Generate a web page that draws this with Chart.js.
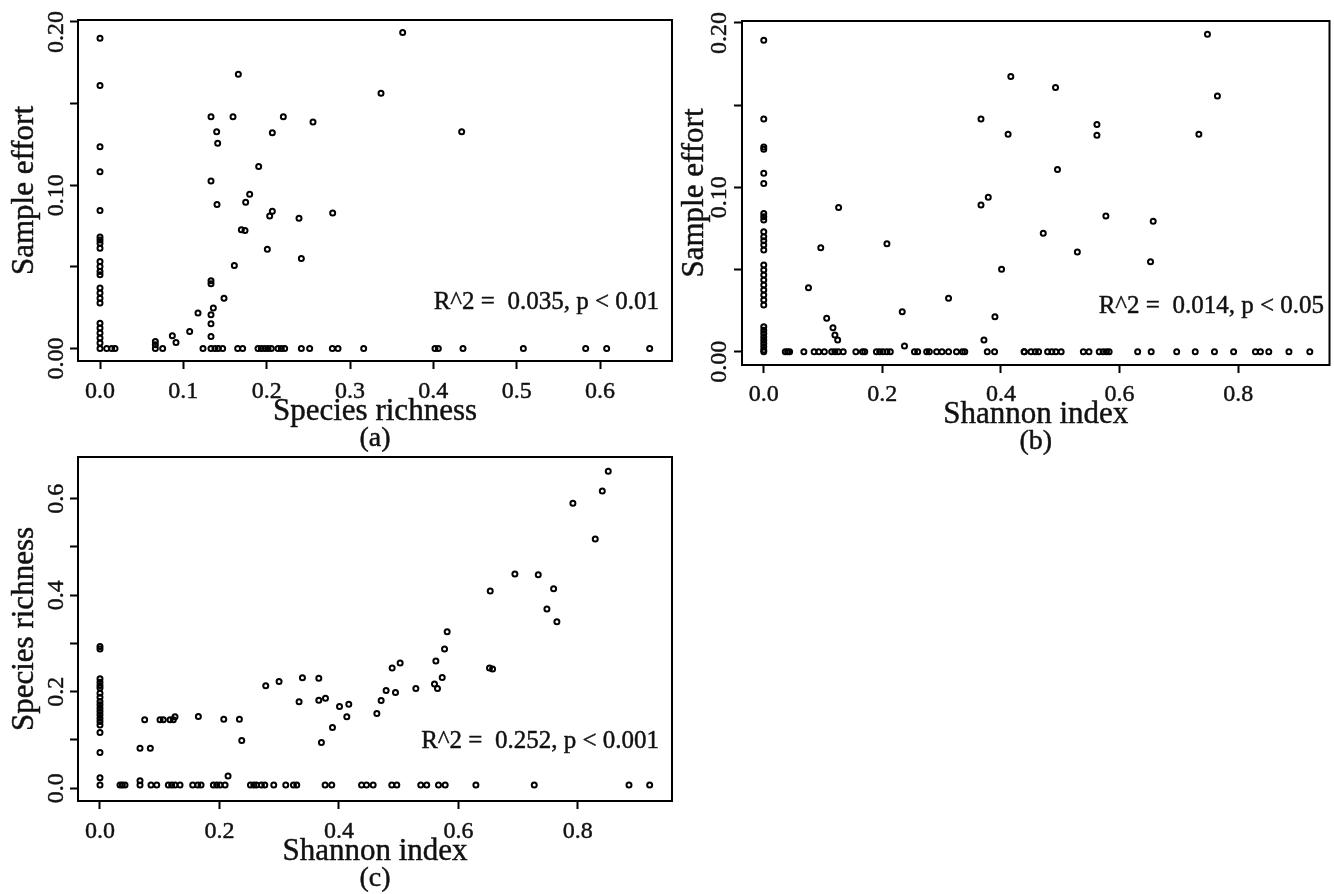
<!DOCTYPE html>
<html><head><meta charset="utf-8">
<script src="https://cdn.jsdelivr.net/npm/chart.js@4.4.1/dist/chart.umd.min.js"></script>
<style>
html,body{margin:0;padding:0;background:#fff;width:1334px;height:894px;overflow:hidden}
canvas{position:absolute;left:0;top:0}
</style></head>
<body>
<canvas id="ca" width="1334" height="894"></canvas>
<canvas id="cb" width="1334" height="894"></canvas>
<canvas id="cc" width="1334" height="894"></canvas>
<script>
// ---------- Panel (a): Species richness (x) vs Sample effort (y) ----------
const aX = [0,0,0,0,0,0,0,0,0,0,0,0,0,0,0,0,0,0,0,0,0,0,0,
  0.008,0.014,0.018,0.0664,0.0664,0.0664,0.0752,0.0868,0.0912,0.1076,0.1176,0.1236,
  0.1332,0.1332,0.1332,0.1332,0.1332,0.1332,0.1332,0.136,0.140,0.1412,0.1404,
  0.1332,0.138,0.142,0.1472,0.1488,0.1596,0.1612,0.166,0.1652,0.1712,0.1696,0.174,0.1748,0.1796,0.1904,
  0.1896,0.1936,0.1976,0.2016,0.2056,0.2136,0.2176,0.2216,
  0.2008,0.2036,0.2068,0.2068,0.22,0.2388,0.2416,0.2416,0.2516,0.2556,0.2792,0.2788,0.2856,0.3164,
  0.3372,0.3632,0.434,0.402,0.406,0.4356,0.508,0.5828,0.608,0.6596];
const aY = [0.190,0.161,0.1236,0.1083,0.0845,0.0682,0.0665,0.0645,0.0614,0.0532,0.0502,0.0471,0.0451,0.037,0.0339,0.0308,0.0278,0.0155,0.0125,0.0094,0.0064,0.0033,0,
  0,0,0,0.0043,0.0023,0,0,0.0078,0.0037,0.0104,0.0217,0,
  0.142,0.1026,0.0414,0.0396,0.0206,0.0151,0.0073,0.0247,0.1328,0.1257,0.0881,
  0,0,0,0,0.0308,0.142,0.0508,0.1679,0,0,0.0727,0.0723,0.0896,0.0945,0.1114,
  0,0,0,0,0,0,0,0,
  0.0608,0.0812,0.0841,0.1322,0.142,0.0798,0.0551,0,0,0.1387,0.0829,0,0,0,
  0.1563,0.1936,0.1328,0,0,0,0,0,0,0];
const aXTicks = [0,0.1,0.2,0.3,0.4,0.5,0.6];
const aXLabels = ['0.0','0.1','0.2','0.3','0.4','0.5','0.6'];
const aYTicks = [0,0.05,0.1,0.15,0.2];
const aYLabels = ['0.00','','0.10','','0.20'];

// ---------- Panel (b): Shannon index (x) vs Sample effort (y) ----------
const bX = [0,0,0,0,0,0,0,0,0,0,0,0,0,0,0,0,0,0,0,0,0,0,0,0,0,0,0,0,0,0,0,0,
  0.0363,0.0402,0.0436,0.0676,0.0849,0.0927,0.1022,0.0754,0.0961,0.1061,0.1167,0.12,0.1246,0.1262,
  0.1145,0.12,0.1256,0.134,0.1553,0.1665,0.1703,0.1899,0.1955,0.201,0.2077,0.2134,0.2077,0.2335,0.2373,
  0.2541,0.2596,0.2747,0.2792,0.2915,0.3005,0.3116,0.325,0.335,0.339,0.3116,
  0.3663,0.3663,0.3786,0.3713,0.3769,0.3892,0.3898,0.401,0.412,0.4166,0.4389,
  0.7482,0.492,0.765,0.5618,0.5618,0.7337,0.4953,0.5769,0.6567,0.4713,0.5288,0.6522,
  0.4395,0.4506,0.4579,0.4635,0.4786,0.4858,0.4925,0.5015,0.5389,0.5484,0.5657,0.5723,0.5779,0.5824,
  0.6305,0.6533,0.6963,0.7276,0.76,0.7923,0.8291,0.8375,0.8516,0.8856,0.9208];
const bY = [0.1895,0.1415,0.1246,0.1232,0.1085,0.1024,0.0841,0.0821,0.0801,0.073,0.07,0.0675,0.0649,0.0618,
  0.0527,0.0497,0.0466,0.0436,0.0405,0.0375,0.0345,0.0314,0.0284,0.0152,0.0131,0.011,0.009,0.007,0.005,0.003,0.001,0,
  0,0,0,0,0,0,0,0.0389,0.0632,0.0203,0.0146,0.0101,0.0071,0.0878,
  0,0,0,0,0,0,0,0,0,0,0,0,0.0657,0.0243,0.0035,
  0,0,0,0,0,0,0,0,0,0,0.0325,
  0.1415,0.0892,0.0939,0.0071,0,0,0.0213,0.0501,0.1323,0.1674,0,
  0.1931,0.1607,0.1556,0.1382,0.1317,0.1323,0.1109,0.0825,0.0793,0.072,0.0606,0.0547,
  0,0,0,0,0,0,0,0,0,0,0,0,0,0,
  0,0,0,0,0,0,0,0,0,0,0];
const bXTicks = [0,0.2,0.4,0.6,0.8];
const bXLabels = ['0.0','0.2','0.4','0.6','0.8'];
const bYTicks = [0,0.05,0.1,0.15,0.2];
const bYLabels = ['0.00','','0.10','','0.20'];

// ---------- Panel (c): Shannon index (x) vs Species richness (y) ----------
const cX = [0,0,0,0,0,0,0,0,0,0,0,0,0,0,0,0,0,0,0,0,
  0.0335,0.0374,0.0419,0.067,0.067,0.067,0.0843,0.0748,0.0854,0.095,
  0.1005,0.106,0.1173,0.1228,0.1256,0.1144,0.12,0.1256,0.134,0.1647,0.1552,0.1636,0.1692,
  0.1898,0.1954,0.201,0.2094,0.2072,0.2144,0.2334,0.2373,
  0.2519,0.2575,0.262,0.2703,0.2759,0.2909,0.2775,0.2998,0.311,0.3239,0.3294,
  0.3333,0.3389,0.3663,0.3663,0.3707,0.3775,0.3769,0.388,0.3892,0.401,0.4132,0.4165,
  0.4379,0.4462,0.4573,0.4635,0.4707,0.479,0.4891,0.4947,0.5025,0.4885,0.4969,
  0.5288,0.537,0.547,0.5623,0.56,0.565,0.5729,0.5768,0.5812,0.5667,0.5779,0.6293,
  0.6533,0.6521,0.6572,0.6946,0.727,0.7337,0.7594,0.7482,0.7649,0.7917,0.8291,0.8409,0.8509,0.8856,0.9202];
const cY = [0.2938,0.2884,0.2268,0.2199,0.2129,0.2075,0.197,0.1888,0.1797,0.1728,0.1659,0.159,0.1521,0.1452,0.1382,0.1313,0.1154,0.0739,0.022,0.0068,
  0.0068,0.0068,0.0068,0.0158,0.0068,0.083,0.083,0.1418,0.0068,0.0068,
  0.1418,0.1418,0.1418,0.1418,0.148,0.0068,0.0068,0.0068,0.0068,0.1487,0.0068,0.0068,0.0068,
  0.0068,0.0068,0.0068,0.0068,0.1431,0.0255,0.1431,0.0988,
  0.0068,0.0068,0.0068,0.0068,0.0068,0.0068,0.2122,0.2212,0.0068,0.0068,0.0068,
  0.179,0.2288,0.2282,0.1826,0.0946,0.1867,0.0068,0.0068,0.1257,0.1693,0.148,0.1743,
  0.0068,0.0068,0.0068,0.1548,0.1818,0.2025,0.249,0.1984,0.2593,0.0068,0.0068,
  0.2066,0.0068,0.0068,0.2635,0.2158,0.2066,0.2295,0.2884,0.3243,0.0068,0.0068,0.0068,
  0.4087,0.249,0.2469,0.444,0.0068,0.4425,0.4135,0.3714,0.345,0.5905,0.5166,0.6162,0.6568,0.0068,0.0068];
const cXTicks = [0,0.2,0.4,0.6,0.8];
const cXLabels = ['0.0','0.2','0.4','0.6','0.8'];
const cYTicks = [0,0.1,0.2,0.3,0.4,0.5,0.6];
const cYLabels = ['0.0','','0.2','','0.4','','0.6'];

const FONT = '"Liberation Serif", "Times New Roman", Times, serif';
const W = 1334, H = 894;

function drawText(ctx, s, x, y) {
  ctx.fillText(s, x, y);
  ctx.strokeText(s, x, y);
}

function build(id, xs, ys, cfg) {
  const pts = xs.map((x, i) => ({ x: x, y: ys[i] }));
  const textPlugin = {
    id: 'rtext' + id,
    afterDraw(chart) {
      const ctx = chart.ctx, a = chart.chartArea, sx = chart.scales.x, sy = chart.scales.y;
      ctx.save();
      ctx.strokeStyle = '#000'; ctx.lineWidth = 2;
      ctx.strokeRect(a.left, a.top, a.right - a.left, a.bottom - a.top);
      ctx.fillStyle = '#111';
      ctx.strokeStyle = '#111'; ctx.lineWidth = 0.45; ctx.lineJoin = 'round';
      ctx.textAlign = 'center'; ctx.textBaseline = 'alphabetic';
      ctx.font = '24px ' + FONT;
      cfg.xTicks.forEach((v, i) => {
        if (cfg.xLabels[i]) drawText(ctx, cfg.xLabels[i], sx.getPixelForValue(v), cfg.xLabelBase);
      });
      cfg.yTicks.forEach((v, i) => {
        if (!cfg.yLabels[i]) return;
        ctx.save();
        ctx.translate(cfg.yLabelBase, sy.getPixelForValue(v) + cfg.yLabelShift);
        ctx.rotate(-Math.PI / 2);
        drawText(ctx, cfg.yLabels[i], 0, 0);
        ctx.restore();
      });
      ctx.font = '31px ' + FONT;
      drawText(ctx, cfg.xTitle, (a.left + a.right) / 2, cfg.xTitleBase);
      ctx.save();
      ctx.translate(cfg.yTitleBase, (a.top + a.bottom) / 2);
      ctx.rotate(-Math.PI / 2);
      drawText(ctx, cfg.yTitle, 0, 0);
      ctx.restore();
      ctx.font = '28px ' + FONT;
      drawText(ctx, cfg.panel, (a.left + a.right) / 2, cfg.panelBase);
      ctx.font = '25px ' + FONT;
      ctx.textAlign = 'right';
      drawText(ctx, cfg.stat, cfg.statRight, cfg.statBase);
      ctx.restore();
    }
  };
  const xH = 40;
  new Chart(document.getElementById(id), {
    type: 'scatter',
    data: { datasets: [{ data: pts, pointStyle: 'circle', pointRadius: 2.5, pointHoverRadius: 2.5,
      borderColor: '#000', backgroundColor: 'rgba(0,0,0,0)', borderWidth: 2, pointBorderWidth: 2 }] },
    options: {
      responsive: false, animation: false, events: [],
      layout: { padding: { left: 0, top: cfg.area.t, right: W - cfg.area.r, bottom: H - cfg.area.b - xH } },
      plugins: { legend: { display: false }, tooltip: { enabled: false } },
      scales: {
        x: { type: 'linear', position: 'bottom', bounds: 'data', min: cfg.xMin, max: cfg.xMax,
          afterBuildTicks: s => { s.ticks = cfg.xTicks.map(v => ({ value: v })); },
          afterFit: s => { s.height = xH; },
          ticks: { display: false },
          grid: { drawOnChartArea: false, drawTicks: true, tickLength: 8, tickWidth: 2, tickColor: '#000' },
          border: { display: false } },
        y: { type: 'linear', position: 'left', bounds: 'data', min: cfg.yMin, max: cfg.yMax,
          afterBuildTicks: s => { s.ticks = cfg.yTicks.map(v => ({ value: v })); },
          afterFit: s => { s.width = cfg.area.l; },
          ticks: { display: false },
          grid: { drawOnChartArea: false, drawTicks: true, tickLength: 8, tickWidth: 2, tickColor: '#000' },
          border: { display: false } }
      }
    },
    plugins: [textPlugin]
  });
}

build('ca', aX, aY, {
  area: { l: 78, t: 20, r: 672, b: 361 },
  xMin: -0.0264, xMax: 0.6864, yMin: -0.0077, yMax: 0.2012,
  xTicks: aXTicks, xLabels: aXLabels, yTicks: aYTicks, yLabels: aYLabels,
  xLabelBase: 398, yLabelBase: 62.5, yLabelShift: 10,
  xTitle: 'Species richness', xTitleBase: 420,
  yTitle: 'Sample effort', yTitleBase: 33,
  panel: '(a)', panelBase: 446,
  stat: 'R^2 =  0.035, p < 0.01', statRight: 659, statBase: 309
});
build('cb', bX, bY, {
  area: { l: 742, t: 21, r: 1333, b: 365 },
  xMin: -0.0367, xMax: 0.954, yMin: -0.0081, yMax: 0.2012,
  xTicks: bXTicks, xLabels: bXLabels, yTicks: bYTicks, yLabels: bYLabels,
  xLabelBase: 401, yLabelBase: 726, yLabelShift: 10,
  xTitle: 'Shannon index', xTitleBase: 423,
  yTitle: 'Sample effort', yTitleBase: 703,
  panel: '(b)', panelBase: 449,
  stat: 'R^2 =  0.014, p < 0.05', statRight: 1324, statBase: 313
});
build('cc', cX, cY, {
  area: { l: 78, t: 457, r: 672, b: 801 },
  xMin: -0.0368, xMax: 0.9576, yMin: -0.0264, yMax: 0.6864,
  xTicks: cXTicks, xLabels: cXLabels, yTicks: cYTicks, yLabels: cYLabels,
  xLabelBase: 838, yLabelBase: 62.5, yLabelShift: 0,
  xTitle: 'Shannon index', xTitleBase: 860,
  yTitle: 'Species richness', yTitleBase: 33,
  panel: '(c)', panelBase: 886,
  stat: 'R^2 =  0.252, p < 0.001', statRight: 659, statBase: 748
});
</script>
</body></html>
